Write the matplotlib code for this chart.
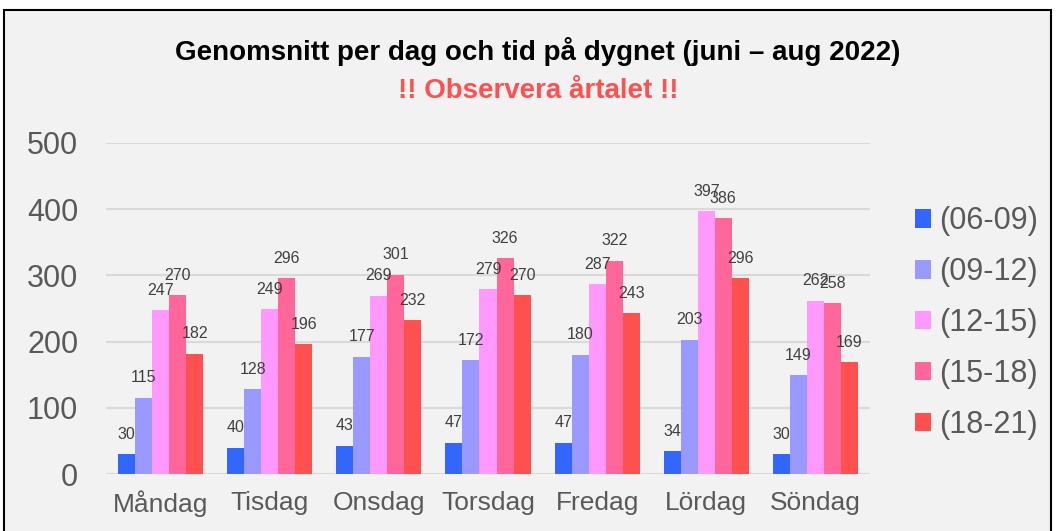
import numpy as np
import matplotlib
matplotlib.use('Agg')
import matplotlib.pyplot as plt
from matplotlib.patches import Rectangle

plt.rcParams['font.family'] = ['Liberation Sans', 'DejaVu Sans']

days = ['Måndag', 'Tisdag', 'Onsdag', 'Torsdag', 'Fredag', 'Lördag', 'Söndag']
series = ['(06-09)', '(09-12)', '(12-15)', '(15-18)', '(18-21)']
v0609 = [30, 40, 43, 47, 47, 34, 30]
v0912 = [115, 128, 177, 172, 180, 203, 149]
v1215 = [247, 249, 269, 279, 287, 397, 262]
v1518 = [270, 296, 301, 326, 322, 386, 258]
v1821 = [182, 196, 232, 270, 243, 296, 169]
values = [v0609, v0912, v1215, v1518, v1821]
colors = ['#3366ff', '#9999ff', '#ff99ff', '#ff6699', '#ff5050']

fig = plt.figure(figsize=(10.56, 5.31), dpi=100)
fig.patch.set_facecolor('white')
# grey chart area with black frame
fig.patches.append(Rectangle((4/1056, -0.05), 1047/1056, 1 - 10/531 + 0.05,
                             transform=fig.transFigure, facecolor='#f2f2f2',
                             edgecolor='black', lw=1.5, zorder=-5))

ax = fig.add_axes([106/1056, 1 - 474/531, 764/1056, 331/531])
ax.set_zorder(2)
ax.set_facecolor('#f2f2f2')

x = np.arange(len(days))
w = 0.156
for i, (s, vals) in enumerate(zip(series, values)):
    pos = x + (i - 2) * w
    bars = ax.bar(pos, vals, w, color=colors[i], label=s, zorder=3)
    for p, v in zip(pos, vals):
        ax.annotate(str(v), (p, v), xytext=(0, 9), textcoords='offset points',
                    ha='center', va='bottom', fontsize=11.5,
                    color='#404040', zorder=4)

ax.set_xlim(-0.5, len(days) - 0.5)
ax.set_ylim(0, 500)
ax.set_yticks(range(0, 501, 100))
ax.set_xticks(x)
ax.set_xticklabels(days)
ax.grid(axis='y', color='#d9d9d9', lw=1.5, zorder=0)
ax.tick_params(axis='both', length=0, colors='#595959')
ax.tick_params(axis='x', pad=12, labelsize=19)
ax.tick_params(axis='y', pad=20, labelsize=22)
for sp in ax.spines.values():
    sp.set_visible(False)

fig.text(538/1056, 1 - 52/531, 'Genomsnitt per dag och tid på dygnet (juni – aug 2022)',
         ha='center', va='center', fontsize=20, fontweight='bold',
         color='black')
fig.text(538/1056, 1 - 91/531, '!! Observera årtalet !!', ha='center', va='center',
         fontsize=20, fontweight='bold', color='#ff5050')

leg = fig.legend(loc='center left', bbox_to_anchor=(887/1056, 1 - 323/531),
                 frameon=False, fontsize=22, handlelength=0.55, handleheight=0.55,
                 handletextpad=0.25, labelspacing=0.68, labelcolor='#595959')

fig.savefig('out.png', dpi=100, facecolor=fig.get_facecolor())
